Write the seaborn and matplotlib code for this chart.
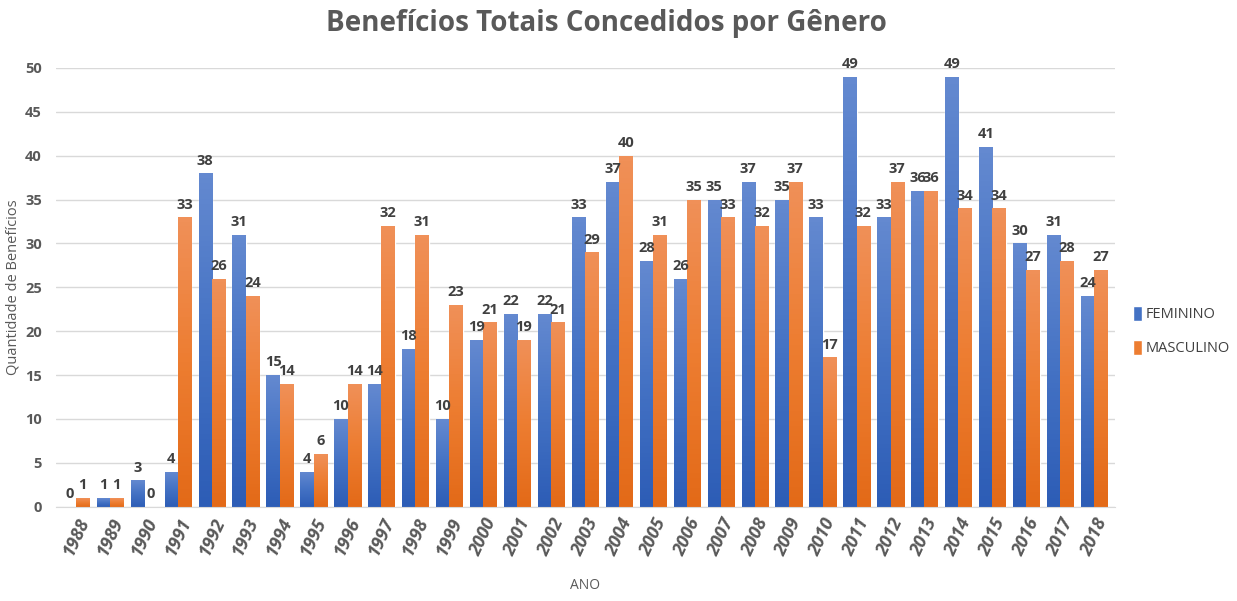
import matplotlib
matplotlib.use("Agg")
import matplotlib.pyplot as plt
from matplotlib.colors import LinearSegmentedColormap
import seaborn as sns
import pandas as pd
import numpy as np

anos = list(range(1988, 2019))
feminino = [0, 1, 3, 4, 38, 31, 15, 4, 10, 14, 18, 10, 19, 22, 22, 33,
            37, 28, 26, 35, 37, 35, 33, 49, 33, 36, 49, 41, 30, 31, 24]
masculino = [1, 1, 0, 33, 26, 24, 14, 6, 14, 32, 31, 23, 21, 19, 21, 29,
             40, 31, 35, 33, 32, 37, 17, 32, 37, 36, 34, 34, 27, 28, 27]

df = pd.DataFrame({
    "ANO": [str(a) for a in anos] * 2,
    "valor": feminino + masculino,
    "genero": ["FEMININO"] * len(anos) + ["MASCULINO"] * len(anos),
})

sns.set_style("white")
plt.rcParams["font.family"] = ["Open Sans", "DejaVu Sans"]

fig = plt.figure(figsize=(12.37, 6.01), dpi=100)
ax = fig.add_axes([0.045, 0.157, 0.856, 0.73])

sns.barplot(data=df, x="ANO", y="valor", hue="genero",
            palette=["#4472C4", "#ED7D31"], width=0.78, ax=ax,
            saturation=1, legend=True)

# gradiente vertical nas barras (estilo Excel)
grads = [LinearSegmentedColormap.from_list("b", ["#2D5DB6", "#4472C4", "#6489D0"]),
         LinearSegmentedColormap.from_list("o", ["#E36A18", "#ED7D31", "#F09058"])]
grad = np.linspace(0, 1, 64).reshape(-1, 1)
for cont, cmap in zip(ax.containers, grads):
    for p in cont.patches:
        h = p.get_height()
        if h <= 0:
            continue
        x0 = p.get_x()
        im = ax.imshow(grad, cmap=cmap, origin="lower", aspect="auto",
                       extent=[x0, x0 + p.get_width(), 0, h], zorder=p.get_zorder() + 0.1)
        im.set_clip_path(p)

for cont in ax.containers:
    ax.bar_label(cont, padding=4, fontsize=10.5, fontweight="bold",
                 color="#404040", clip_on=False)

ax.set_ylim(0, 50)
ax.set_xlim(-0.6, len(anos) - 0.4)
ax.set_yticks(range(0, 51, 5))
ax.yaxis.grid(True, color="#d9d9d9", linewidth=1)
ax.set_axisbelow(True)
for s in ["top", "right", "left"]:
    ax.spines[s].set_visible(False)
ax.spines["bottom"].set_color("#d9d9d9")

ax.tick_params(axis="y", length=0, labelsize=10.5, labelcolor="#595959", pad=10)
ax.tick_params(axis="x", length=0, labelsize=13, labelcolor="#595959", pad=6)
for lab in ax.get_xticklabels():
    lab.set_rotation(65)
    lab.set_ha("center")
    lab.set_style("italic")
    lab.set_fontweight("bold")
for lab in ax.get_yticklabels():
    lab.set_fontweight("bold")

ax.set_xlabel("ANO", fontsize=10, color="#595959", labelpad=14)
ax.set_ylabel("Quantidade de Benefícios", fontsize=10.5, color="#595959")
ax.yaxis.set_label_coords(-0.033, 0.5)

ax.legend(loc="center left", bbox_to_anchor=(1.005, 0.40), frameon=False,
          fontsize=10.5, handlelength=0.6, handleheight=1.2, handletextpad=0.3,
          labelspacing=1.2, labelcolor="#404040")

fig.suptitle("Benefícios Totais Concedidos por Gênero", x=0.49, y=0.985,
             fontsize=20, fontweight="bold", color="#595959")

fig.savefig("out.png", dpi=100)
